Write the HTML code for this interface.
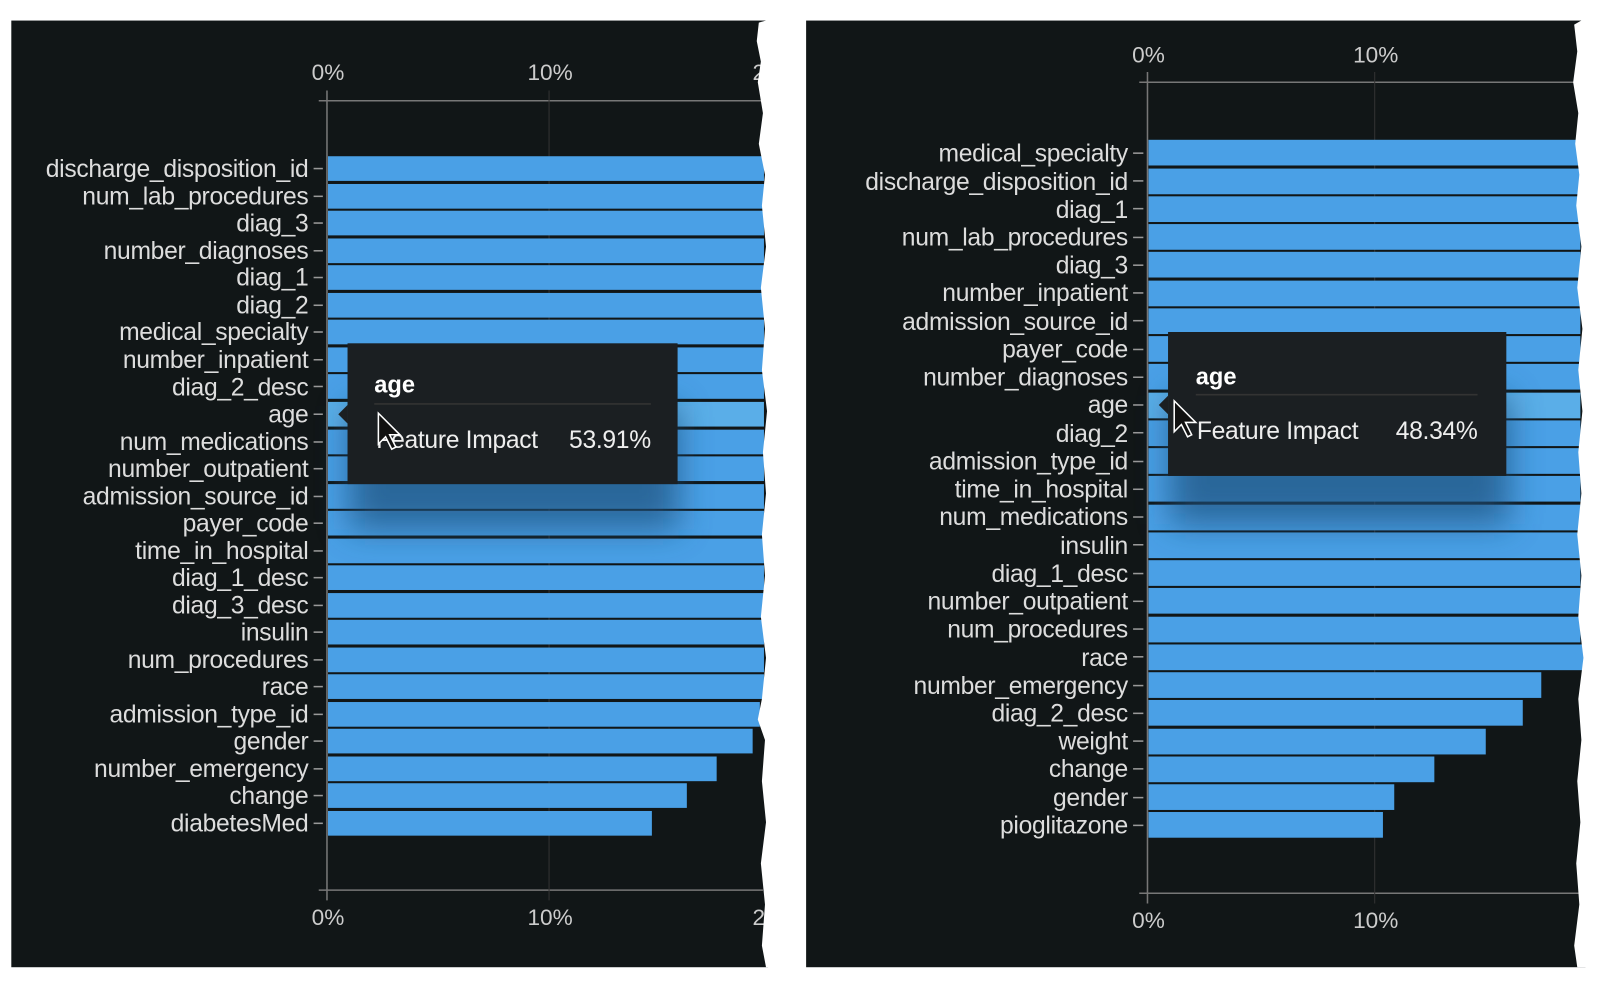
<!DOCTYPE html>
<html><head><meta charset="utf-8"><style>
html,body{margin:0;padding:0;background:#fff;}
svg{display:block;}
text{font-family:"Liberation Sans",sans-serif;}
</style></head><body>
<svg width="1604" height="996" viewBox="0 0 1560 969" preserveAspectRatio="none" xmlns="http://www.w3.org/2000/svg">
<defs>
<filter id="sh" x="-30%" y="-30%" width="160%" height="180%"><feGaussianBlur stdDeviation="16"/></filter>
</defs>
<rect width="1560" height="969" fill="#fff"/>
<!-- LEFT PANEL -->
<rect x="11" y="20" width="736" height="921" fill="#111617"/>
<line x1="310" y1="98" x2="742" y2="98" stroke="#777" stroke-width="1.5"/>
<line x1="310" y1="866" x2="742" y2="866" stroke="#777" stroke-width="1.5"/>
<line x1="318" y1="88" x2="318" y2="876" stroke="#777" stroke-width="1.5"/>
<line x1="534" y1="88" x2="534" y2="876" stroke="#333" stroke-width="1"/>
<g fill="#ccc" font-size="22" text-anchor="middle">
<text x="319" y="78">0%</text><text x="535" y="78">10%</text><text x="738" y="78">2</text>
<text x="319" y="900">0%</text><text x="535" y="900">10%</text><text x="738" y="900">2</text>
</g>
<g fill="#4aa0e6">
<rect x="319" y="152" width="424" height="24"/>
<rect x="319" y="179" width="424" height="24"/>
<rect x="319" y="205" width="424" height="24"/>
<rect x="319" y="232" width="424" height="24"/>
<rect x="319" y="258" width="424" height="24"/>
<rect x="319" y="285" width="424" height="24"/>
<rect x="319" y="311" width="424" height="24"/>
<rect x="319" y="338" width="424" height="24"/>
<rect x="319" y="364" width="424" height="24"/>
<rect x="319" y="391" width="424" height="24" fill="#5aaee8"/>
<rect x="319" y="418" width="424" height="24"/>
<rect x="319" y="444" width="424" height="24"/>
<rect x="319" y="471" width="424" height="24"/>
<rect x="319" y="497" width="424" height="24"/>
<rect x="319" y="524" width="424" height="24"/>
<rect x="319" y="550" width="424" height="24"/>
<rect x="319" y="577" width="424" height="24"/>
<rect x="319" y="603" width="424" height="24"/>
<rect x="319" y="630" width="424" height="24"/>
<rect x="319" y="656" width="424" height="24"/>
<rect x="319" y="683" width="420" height="24"/>
<rect x="319" y="709" width="413" height="24"/>
<rect x="319" y="736" width="378" height="24"/>
<rect x="319" y="762" width="349" height="24"/>
<rect x="319" y="789" width="315" height="24"/>
</g>
<g fill="#ddd" font-size="24" text-anchor="end" letter-spacing="-0.3">
<text x="300" y="172">discharge_disposition_id</text>
<text x="300" y="199">num_lab_procedures</text>
<text x="300" y="225">diag_3</text>
<text x="300" y="252">number_diagnoses</text>
<text x="300" y="278">diag_1</text>
<text x="300" y="305">diag_2</text>
<text x="300" y="331">medical_specialty</text>
<text x="300" y="358">number_inpatient</text>
<text x="300" y="385">diag_2_desc</text>
<text x="300" y="411">age</text>
<text x="300" y="438">num_medications</text>
<text x="300" y="464">number_outpatient</text>
<text x="300" y="491">admission_source_id</text>
<text x="300" y="517">payer_code</text>
<text x="300" y="544">time_in_hospital</text>
<text x="300" y="570">diag_1_desc</text>
<text x="300" y="597">diag_3_desc</text>
<text x="300" y="623">insulin</text>
<text x="300" y="650">num_procedures</text>
<text x="300" y="676">race</text>
<text x="300" y="703">admission_type_id</text>
<text x="300" y="729">gender</text>
<text x="300" y="756">number_emergency</text>
<text x="300" y="782">change</text>
<text x="300" y="809">diabetesMed</text>
</g>
<g stroke="#999" stroke-width="1.5">
<line x1="305" y1="164" x2="314" y2="164"/><line x1="305" y1="191" x2="314" y2="191"/><line x1="305" y1="217" x2="314" y2="217"/><line x1="305" y1="244" x2="314" y2="244"/><line x1="305" y1="270" x2="314" y2="270"/><line x1="305" y1="297" x2="314" y2="297"/><line x1="305" y1="323" x2="314" y2="323"/><line x1="305" y1="350" x2="314" y2="350"/><line x1="305" y1="376" x2="314" y2="376"/><line x1="305" y1="403" x2="314" y2="403"/><line x1="305" y1="430" x2="314" y2="430"/><line x1="305" y1="456" x2="314" y2="456"/><line x1="305" y1="483" x2="314" y2="483"/><line x1="305" y1="509" x2="314" y2="509"/><line x1="305" y1="536" x2="314" y2="536"/><line x1="305" y1="562" x2="314" y2="562"/><line x1="305" y1="589" x2="314" y2="589"/><line x1="305" y1="615" x2="314" y2="615"/><line x1="305" y1="642" x2="314" y2="642"/><line x1="305" y1="668" x2="314" y2="668"/><line x1="305" y1="695" x2="314" y2="695"/><line x1="305" y1="721" x2="314" y2="721"/><line x1="305" y1="748" x2="314" y2="748"/><line x1="305" y1="774" x2="314" y2="774"/><line x1="305" y1="801" x2="314" y2="801"/>
</g>
<!-- left tooltip -->
<rect x="340" y="395" width="320" height="120" fill="#1e4f7a" opacity="0.7" filter="url(#sh)"/>
<polygon points="338,394 329,403 338,412" fill="#1b1f22"/>
<rect x="338" y="334" width="321" height="137" fill="#1b1f22"/>
<text x="364" y="382" fill="#fff" font-size="23" font-weight="bold">age</text>
<line x1="364" y1="393" x2="633" y2="393" stroke="#333" stroke-width="1.5"/>
<text x="366" y="436" fill="#eee" font-size="24" letter-spacing="-0.3">Feature Impact</text>
<text x="633" y="436" fill="#eee" font-size="24" text-anchor="end" letter-spacing="-0.3">53.91%</text>
<polygon points="368,402 368,432 375,425 381,437 385,435 379,423 389,423" fill="#111" stroke="#fff" stroke-width="1.5"/>
<!-- left torn edge -->
<polygon points="745,20 738,22 736,40 740,60 737,80 742,110 738,140 744,170 741,200 745,240 740,280 744,320 741,360 746,400 742,440 745,480 741,520 744,560 740,600 745,640 741,680 737,700 744,720 741,760 745,800 740,840 744,880 741,920 745,941 760,941 760,20" fill="#fff"/>

<!-- RIGHT PANEL -->
<rect x="784" y="20" width="758" height="921" fill="#111617"/>
<line x1="1108" y1="80" x2="1540" y2="80" stroke="#777" stroke-width="1.5"/>
<line x1="1108" y1="869" x2="1540" y2="869" stroke="#777" stroke-width="1.5"/>
<line x1="1116" y1="70" x2="1116" y2="879" stroke="#777" stroke-width="1.5"/>
<line x1="1337" y1="70" x2="1337" y2="879" stroke="#333" stroke-width="1"/>
<g fill="#ccc" font-size="22" text-anchor="middle">
<text x="1117" y="61">0%</text><text x="1338" y="61">10%</text>
<text x="1117" y="903">0%</text><text x="1338" y="903">10%</text>
</g>
<g fill="#4aa0e6">
<rect x="1117" y="136" width="420" height="25"/>
<rect x="1117" y="164" width="420" height="25"/>
<rect x="1117" y="191" width="420" height="25"/>
<rect x="1117" y="218" width="420" height="25"/>
<rect x="1117" y="245" width="420" height="25"/>
<rect x="1117" y="273" width="420" height="25"/>
<rect x="1117" y="300" width="420" height="25"/>
<rect x="1117" y="327" width="420" height="25"/>
<rect x="1117" y="354" width="420" height="25"/>
<rect x="1117" y="382" width="420" height="25" fill="#5aaee8"/>
<rect x="1117" y="409" width="420" height="25"/>
<rect x="1117" y="436" width="420" height="25"/>
<rect x="1117" y="463" width="420" height="25"/>
<rect x="1117" y="491" width="420" height="25"/>
<rect x="1117" y="518" width="420" height="25"/>
<rect x="1117" y="545" width="420" height="25"/>
<rect x="1117" y="572" width="420" height="25"/>
<rect x="1117" y="600" width="420" height="25"/>
<rect x="1117" y="627" width="425" height="25"/>
<rect x="1117" y="654" width="382" height="25"/>
<rect x="1117" y="681" width="364" height="25"/>
<rect x="1117" y="709" width="328" height="25"/>
<rect x="1117" y="736" width="278" height="25"/>
<rect x="1117" y="763" width="239" height="25"/>
<rect x="1117" y="790" width="228" height="25"/>
</g>
<g fill="#ddd" font-size="24" text-anchor="end" letter-spacing="-0.3">
<text x="1097" y="157">medical_specialty</text>
<text x="1097" y="185">discharge_disposition_id</text>
<text x="1097" y="212">diag_1</text>
<text x="1097" y="239">num_lab_procedures</text>
<text x="1097" y="266">diag_3</text>
<text x="1097" y="293">number_inpatient</text>
<text x="1097" y="321">admission_source_id</text>
<text x="1097" y="348">payer_code</text>
<text x="1097" y="375">number_diagnoses</text>
<text x="1097" y="402">age</text>
<text x="1097" y="430">diag_2</text>
<text x="1097" y="457">admission_type_id</text>
<text x="1097" y="484">time_in_hospital</text>
<text x="1097" y="511">num_medications</text>
<text x="1097" y="539">insulin</text>
<text x="1097" y="566">diag_1_desc</text>
<text x="1097" y="593">number_outpatient</text>
<text x="1097" y="620">num_procedures</text>
<text x="1097" y="648">race</text>
<text x="1097" y="675">number_emergency</text>
<text x="1097" y="702">diag_2_desc</text>
<text x="1097" y="729">weight</text>
<text x="1097" y="756">change</text>
<text x="1097" y="784">gender</text>
<text x="1097" y="811">pioglitazone</text>
</g>
<g stroke="#999" stroke-width="1.5">
<line x1="1102" y1="149" x2="1112" y2="149"/><line x1="1102" y1="176" x2="1112" y2="176"/><line x1="1102" y1="203" x2="1112" y2="203"/><line x1="1102" y1="231" x2="1112" y2="231"/><line x1="1102" y1="258" x2="1112" y2="258"/><line x1="1102" y1="285" x2="1112" y2="285"/><line x1="1102" y1="312" x2="1112" y2="312"/><line x1="1102" y1="340" x2="1112" y2="340"/><line x1="1102" y1="367" x2="1112" y2="367"/><line x1="1102" y1="394" x2="1112" y2="394"/><line x1="1102" y1="421" x2="1112" y2="421"/><line x1="1102" y1="449" x2="1112" y2="449"/><line x1="1102" y1="476" x2="1112" y2="476"/><line x1="1102" y1="503" x2="1112" y2="503"/><line x1="1102" y1="530" x2="1112" y2="530"/><line x1="1102" y1="558" x2="1112" y2="558"/><line x1="1102" y1="585" x2="1112" y2="585"/><line x1="1102" y1="612" x2="1112" y2="612"/><line x1="1102" y1="639" x2="1112" y2="639"/><line x1="1102" y1="667" x2="1112" y2="667"/><line x1="1102" y1="694" x2="1112" y2="694"/><line x1="1102" y1="721" x2="1112" y2="721"/><line x1="1102" y1="748" x2="1112" y2="748"/><line x1="1102" y1="776" x2="1112" y2="776"/><line x1="1102" y1="803" x2="1112" y2="803"/>
</g>
<!-- right tooltip -->
<rect x="1138" y="385" width="330" height="125" fill="#1e4f7a" opacity="0.7" filter="url(#sh)"/>
<polygon points="1136,385 1127,394 1136,403" fill="#1b1f22"/>
<rect x="1136" y="323" width="329" height="140" fill="#1b1f22"/>
<text x="1163" y="374" fill="#fff" font-size="23" font-weight="bold">age</text>
<line x1="1163" y1="384" x2="1437" y2="384" stroke="#333" stroke-width="1.5"/>
<text x="1164" y="427" fill="#eee" font-size="24" letter-spacing="-0.3">Feature Impact</text>
<text x="1437" y="427" fill="#eee" font-size="24" text-anchor="end" letter-spacing="-0.3">48.34%</text>
<polygon points="1142,390 1142,420 1149,413 1155,425 1159,423 1153,411 1163,411" fill="#111" stroke="#fff" stroke-width="1.5"/>
<!-- right torn edge -->
<polygon points="1538,20 1531,24 1534,50 1530,80 1535,110 1532,140 1536,170 1533,200 1538,240 1534,280 1539,320 1535,360 1539,400 1535,440 1538,480 1534,520 1538,560 1535,600 1540,640 1535,680 1538,720 1534,760 1537,800 1533,840 1536,880 1531,920 1534,941 1560,941 1560,20" fill="#fff"/>
</svg>
</body></html>
